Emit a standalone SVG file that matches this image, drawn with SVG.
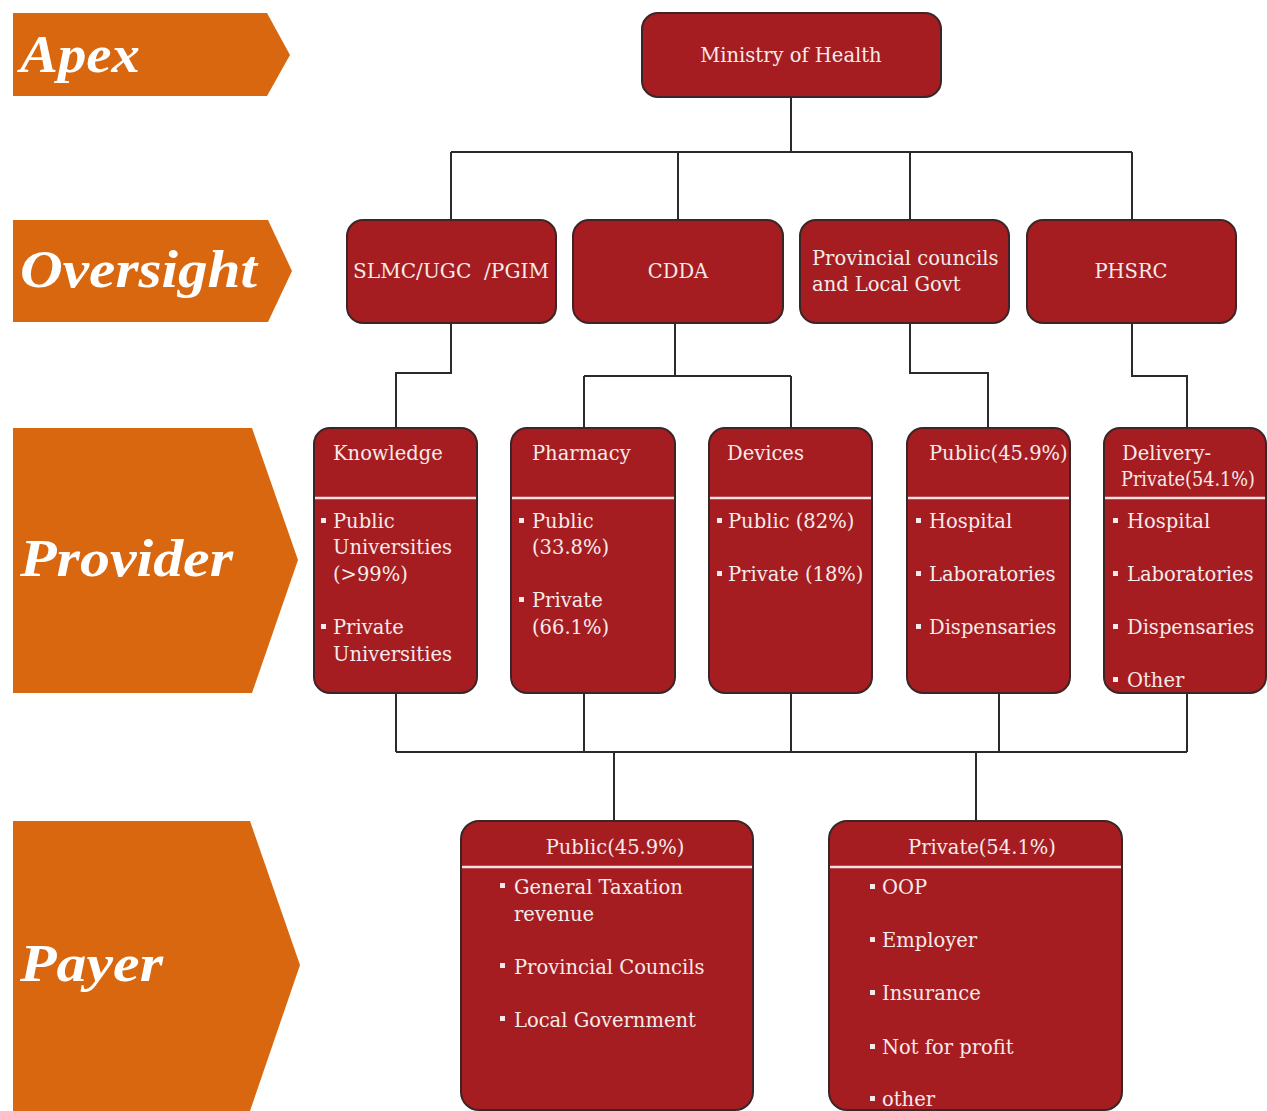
<svg xmlns="http://www.w3.org/2000/svg" width="1267" height="1111" viewBox="0 0 1267 1111">
<style>
.band{fill:#D9670F}
.bandtxt{font-family:"Liberation Serif",serif;font-weight:bold;font-style:italic;font-size:52px;fill:#FFFFFF}
.node{fill:#A51D21;stroke:#3A2626;stroke-width:2}
.t{font-family:"DejaVu Serif","Liberation Serif",serif;font-size:19.5px;fill:#F6EAEA}
.c{text-anchor:middle}
.div{stroke:#F3E3E3;stroke-width:2.5}
.b{fill:#F6EAEA}
.conn{fill:none;stroke:#2B2B2B;stroke-width:2}
</style>
<rect width="1267" height="1111" fill="#FFFFFF"/>

<g id="band-apex">
<polygon class="band" points="13,13 267,13 290,55 267,96 13,96"/>
<text class="bandtxt" x="20" y="72" textLength="120" lengthAdjust="spacingAndGlyphs">Apex</text>
</g>
<g id="band-oversight">
<polygon class="band" points="13,220 268,220 292,271 268,322 13,322"/>
<text class="bandtxt" x="20" y="287" textLength="237" lengthAdjust="spacingAndGlyphs">Oversight</text>
</g>
<g id="band-provider">
<polygon class="band" points="13,428 252,428 298,560 252,693 13,693"/>
<text class="bandtxt" x="20" y="576" textLength="213" lengthAdjust="spacingAndGlyphs">Provider</text>
</g>
<g id="band-payer">
<polygon class="band" points="13,821 250,821 300,965 250,1111 13,1111"/>
<text class="bandtxt" x="20" y="981" textLength="143" lengthAdjust="spacingAndGlyphs">Payer</text>
</g>

<g id="connectors">
<path class="conn" d="M791,97 V152 M451,152 H1132 M451,152 V220 M678,152 V220 M910,152 V220 M1132,152 V220"/>
<path class="conn" d="M451,323 V373 H396 V428"/>
<path class="conn" d="M675,323 V376 M584,376 H791 M584,376 V428 M791,376 V428"/>
<path class="conn" d="M910,323 V373 H988 V428"/>
<path class="conn" d="M1132,323 V376 H1187 V428"/>
<path class="conn" d="M396,693 V752 M584,693 V752 M791,693 V752 M999,693 V752 M1187,693 V752 M396,752 H1187 M614,752 V821 M976,752 V821"/>
</g>

<g id="node-moh">
<rect class="node" x="642" y="13" width="299" height="84" rx="16"/>
<text class="t c" x="791" y="62">Ministry of Health</text>
</g>

<g id="node-slmc">
<rect class="node" x="347" y="220" width="209" height="103" rx="16"/>
<text class="t" x="353" y="278" textLength="196" lengthAdjust="spacingAndGlyphs" xml:space="preserve">SLMC/UGC  /PGIM</text>
</g>
<g id="node-cdda">
<rect class="node" x="573" y="220" width="210" height="103" rx="16"/>
<text class="t c" x="678" y="278">CDDA</text>
</g>
<g id="node-provincial">
<rect class="node" x="800" y="220" width="209" height="103" rx="16"/>
<text class="t" x="812" y="265">Provincial councils</text>
<text class="t" x="812" y="291">and Local Govt</text>
</g>
<g id="node-phsrc">
<rect class="node" x="1027" y="220" width="209" height="103" rx="16"/>
<text class="t c" x="1131" y="278">PHSRC</text>
</g>

<g id="node-knowledge">
<rect class="node" x="314" y="428" width="163" height="265" rx="16"/>
<text class="t" x="333" y="460">Knowledge</text>
<line class="div" x1="315" y1="498" x2="476" y2="498"/>
<rect class="b" x="321" y="518" width="5" height="5"/>
<text class="t" x="333" y="528">Public</text>
<text class="t" x="333" y="554">Universities</text>
<text class="t" x="333" y="581">(&gt;99%)</text>
<rect class="b" x="321" y="624" width="5" height="5"/>
<text class="t" x="333" y="634">Private</text>
<text class="t" x="333" y="661">Universities</text>
</g>

<g id="node-pharmacy">
<rect class="node" x="511" y="428" width="164" height="265" rx="16"/>
<text class="t" x="532" y="460">Pharmacy</text>
<line class="div" x1="512" y1="498" x2="674" y2="498"/>
<rect class="b" x="519" y="518" width="5" height="5"/>
<text class="t" x="532" y="528">Public</text>
<text class="t" x="532" y="554">(33.8%)</text>
<rect class="b" x="519" y="597" width="5" height="5"/>
<text class="t" x="532" y="607">Private</text>
<text class="t" x="532" y="634">(66.1%)</text>
</g>

<g id="node-devices">
<rect class="node" x="709" y="428" width="163" height="265" rx="16"/>
<text class="t" x="727" y="460">Devices</text>
<line class="div" x1="710" y1="498" x2="871" y2="498"/>
<rect class="b" x="717" y="518" width="5" height="5"/>
<text class="t" x="728" y="528">Public (82%)</text>
<rect class="b" x="717" y="571" width="5" height="5"/>
<text class="t" x="728" y="581">Private (18%)</text>
</g>

<g id="node-public-delivery">
<rect class="node" x="907" y="428" width="163" height="265" rx="16"/>
<text class="t" x="929" y="460">Public(45.9%)</text>
<line class="div" x1="908" y1="498" x2="1069" y2="498"/>
<rect class="b" x="916" y="518" width="5" height="5"/>
<text class="t" x="929" y="528">Hospital</text>
<rect class="b" x="916" y="571" width="5" height="5"/>
<text class="t" x="929" y="581">Laboratories</text>
<rect class="b" x="916" y="624" width="5" height="5"/>
<text class="t" x="929" y="634">Dispensaries</text>
</g>

<g id="node-private-delivery">
<rect class="node" x="1104" y="428" width="162" height="265" rx="16"/>
<text class="t" x="1122" y="460">Delivery-</text>
<text class="t" x="1121" y="486" textLength="134" lengthAdjust="spacingAndGlyphs">Private(54.1%)</text>
<line class="div" x1="1105" y1="498" x2="1265" y2="498"/>
<rect class="b" x="1113" y="518" width="5" height="5"/>
<text class="t" x="1127" y="528">Hospital</text>
<rect class="b" x="1113" y="571" width="5" height="5"/>
<text class="t" x="1127" y="581">Laboratories</text>
<rect class="b" x="1113" y="624" width="5" height="5"/>
<text class="t" x="1127" y="634">Dispensaries</text>
<rect class="b" x="1113" y="677" width="5" height="5"/>
<text class="t" x="1127" y="687">Other</text>
</g>

<g id="node-payer-public">
<rect class="node" x="461" y="821" width="292" height="289" rx="18"/>
<text class="t c" x="615" y="854">Public(45.9%)</text>
<line class="div" x1="462" y1="867" x2="752" y2="867"/>
<rect class="b" x="500" y="883" width="5" height="5"/>
<text class="t" x="514" y="894">General Taxation</text>
<text class="t" x="514" y="921">revenue</text>
<rect class="b" x="500" y="963" width="5" height="5"/>
<text class="t" x="514" y="974">Provincial Councils</text>
<rect class="b" x="500" y="1016" width="5" height="5"/>
<text class="t" x="514" y="1027">Local Government</text>
</g>

<g id="node-payer-private">
<rect class="node" x="829" y="821" width="293" height="289" rx="18"/>
<text class="t c" x="982" y="854">Private(54.1%)</text>
<line class="div" x1="830" y1="867" x2="1121" y2="867"/>
<rect class="b" x="870" y="884" width="5" height="5"/>
<text class="t" x="882" y="894">OOP</text>
<rect class="b" x="870" y="937" width="5" height="5"/>
<text class="t" x="882" y="947">Employer</text>
<rect class="b" x="870" y="990" width="5" height="5"/>
<text class="t" x="882" y="1000">Insurance</text>
<rect class="b" x="870" y="1044" width="5" height="5"/>
<text class="t" x="882" y="1054">Not for profit</text>
<rect class="b" x="870" y="1096" width="5" height="5"/>
<text class="t" x="882" y="1106">other</text>
</g>
</svg>
